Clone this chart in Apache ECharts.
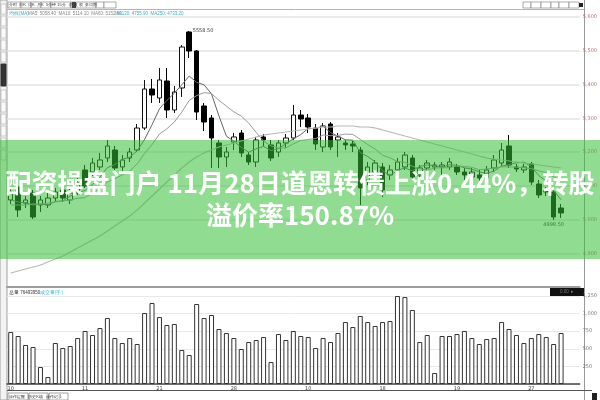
<!DOCTYPE html>
<html><head><meta charset="utf-8">
<script src="https://cdn.jsdelivr.net/npm/echarts@6/dist/echarts.min.js"></script>
<style>html,body{margin:0;padding:0;background:#fff}#c{width:600px;height:400px}</style>
</head><body><div id="c"></div>
<script>
// ---- data (open, close, low, high) ----
const candles = [
[5057.8,5081.5,5045.9,5093.4],[5096.3,5028.2,5007.4,5108.2],[5048.9,5057.8,5034.1,5069.6],[5078.5,5007.4,5001.5,5087.4],
[5043.0,5057.8,5022.2,5069.6],[5043.0,5063.7,5034.1,5078.5],[5063.7,5081.5,5054.8,5093.4],[5087.4,5063.7,5051.9,5099.3],
[5057.8,5078.5,5045.9,5090.4],[5081.5,5108.2,5072.6,5123.0],[5146.7,5099.3,5093.4,5161.5],[5140.7,5167.4,5128.9,5182.2],
[5155.6,5176.3,5146.7,5197.0],[5182.2,5217.8,5170.4,5235.6],[5205.9,5152.6,5140.7,5217.8],[5155.6,5176.3,5143.7,5191.1],
[5182.2,5200.0,5170.4,5211.9],[5205.9,5271.1,5200.0,5283.0],[5271.1,5386.7,5265.2,5413.4],[5386.7,5368.9,5345.2,5416.3],
[5360.0,5413.4,5345.2,5448.9],[5410.4,5324.5,5300.8,5448.9],[5324.5,5377.8,5315.6,5395.6],[5389.7,5511.1,5363.0,5517.1],
[5555.6,5499.3,5478.5,5558.5],[5499.3,5318.5,5294.8,5502.2],[5336.3,5288.9,5262.2,5345.2],[5300.8,5241.5,5152.6,5309.6],
[5226.7,5185.2,5152.6,5235.6],[5185.2,5200.0,5155.6,5214.8],[5229.7,5244.5,5205.9,5256.3],[5256.3,5197.0,5185.2,5265.2],
[5191.1,5170.4,5161.5,5200.0],[5170.4,5235.6,5155.6,5244.5],[5244.5,5235.6,5217.8,5253.4],[5220.8,5182.2,5173.4,5235.6],
[5200.0,5226.7,5185.2,5235.6],[5226.7,5241.5,5211.9,5253.4],[5241.5,5309.6,5235.6,5339.3],[5309.6,5297.8,5274.1,5324.5],
[5300.8,5274.1,5256.3,5312.6],[5271.1,5223.7,5205.9,5283.0],[5214.8,5277.1,5200.0,5285.9],[5283.0,5214.8,5205.9,5288.9],
[5235.6,5244.5,5185.2,5256.3],[5226.7,5220.8,5205.9,5235.6],[5223.7,5217.8,5200.0,5232.6],[5205.9,5093.4,5043.0,5214.8],
[5117.1,5155.6,5102.3,5170.4],[5140.7,5167.4,5128.9,5176.3],[5155.6,5087.4,5066.7,5167.4],[5131.9,5146.7,5117.1,5161.5],
[5146.7,5170.4,5131.9,5182.2],[5155.6,5191.1,5146.7,5200.0],[5182.2,5125.9,5117.1,5191.1],[5131.9,5152.6,5117.1,5161.5],
[5152.6,5167.4,5140.7,5176.3],[5155.6,5161.5,5146.7,5170.4],[5155.6,5161.5,5131.9,5170.4],[5155.6,5170.4,5146.7,5182.2],
[5155.6,5140.7,5131.9,5164.5],[5140.7,5131.9,5117.1,5152.6],[5125.9,5140.7,5111.1,5152.6],[5131.9,5123.0,5105.2,5146.7],
[5123.0,5146.7,5111.1,5158.5],[5152.6,5176.3,5140.7,5191.1],[5167.4,5205.9,5158.5,5226.7],[5217.8,5161.5,5152.6,5250.4],
[5155.6,5149.6,5140.7,5164.5],[5146.7,5155.6,5137.8,5164.5],[5164.5,5111.1,5102.3,5170.4],[5105.2,5072.6,5063.7,5117.1],
[5087.4,5081.5,5069.6,5096.3],[5081.5,5007.4,4998.5,5093.4],[5034.1,5019.3,5004.5,5045.9]
];
const volumes = [738,682,554,525,241,99,582,511,540,653,753,696,795,937,653,582,653,568,1008,1150,
951,838,852,483,412,1136,937,980,781,724,653,497,596,625,667,312,710,625,753,682,
667,511,653,596,724,880,809,966,880,824,880,895,1250,1235,1051,596,696,156,682,682,
710,753,653,568,639,653,880,781,696,582,653,710,667,568,724];
const ma5 = [5057.8,5051.9,5048.9,5043.0,5046.5,5043.0,5053.6,5054.8,5069.0,5079.1,5086.2,5103.4,5125.9,5153.8,5162.7,
5178.1,5184.6,5203.6,5237.4,5280.6,5328.0,5352.9,5374.2,5399.1,5425.2,5406.2,5399.1,5371.9,5306.7,5246.8,
5232.0,5213.7,5199.4,5209.5,5216.6,5204.2,5210.1,5224.3,5239.1,5251.6,5269.9,5269.3,5276.5,5257.5,5246.8,
5236.2,5235.0,5198.2,5186.4,5171.0,5144.3,5130.1,5145.5,5152.6,5144.3,5157.4,5161.5,5159.7,5153.8,5162.7,
5160.3,5153.2,5149.0,5141.3,5136.6,5143.7,5158.5,5162.7,5168.0,5169.8,5156.8,5130.1,5114.1,5085.6,5058.4];
const ma10 = [5043.0,5043.0,5043.0,5045.9,5045.9,5048.9,5051.9,5054.8,5057.8,5062.8,5064.6,5078.5,5090.4,5111.4,5120.9,
5132.2,5144.0,5164.8,5195.6,5221.7,5253.1,5268.8,5288.9,5318.2,5352.9,5367.1,5376.0,5373.1,5352.9,5336.0,
5319.1,5306.4,5285.6,5258.1,5231.7,5218.1,5211.9,5211.9,5224.3,5234.1,5237.1,5239.7,5250.4,5248.3,5249.2,
5253.1,5252.2,5237.4,5222.0,5208.9,5190.2,5182.5,5171.9,5169.5,5157.7,5150.8,5145.8,5152.6,5153.2,5153.5,
5158.8,5157.4,5154.4,5147.6,5149.6,5152.0,5155.9,5155.9,5154.7,5153.2,5150.2,5144.3,5138.4,5126.8,5114.1];
const ma60 = [4841.5,4847.4,4853.3,4859.3,4865.2,4874.1,4883.0,4891.9,4903.7,4915.6,4927.4,4939.2,4951.1,4965.9,4980.8,
4995.6,5010.4,5028.2,5048.9,5069.6,5090.4,5111.1,5131.9,5152.6,5170.4,5185.2,5197.0,5205.9,5214.8,5220.8,
5226.7,5232.6,5238.5,5244.5,5250.4,5253.4,5256.3,5259.3,5262.2,5265.2,5268.2,5271.1,5274.1,5274.1,5277.1,
5277.1,5277.1,5274.1,5274.1,5271.1,5265.2,5259.3,5253.4,5247.4,5241.5,5235.6,5229.7,5223.7,5217.8,5211.9,
5205.9,5200.0,5194.1,5188.2,5182.2,5179.3,5176.3,5173.4,5170.4,5167.4,5164.5,5161.5,5158.5,5155.6,5152.6];
const tickLabels = ['10','11','21','28','10','18','19','27'];
const slotCount = 77;
const titleLines = ['配资操盘门户 11月28日道恩转债上涨0.44%，转股', '溢价率150.87%'];

const cats = [];
for (let i = 0; i < slotCount; i++) cats.push('d' + i);

const chart = echarts.init(document.getElementById('c'), null, {renderer: 'canvas'});
const tiny = {fontSize: 5, fontFamily: 'DejaVu Sans'};
const last = a => a[a.length - 1].toFixed(2);

const chrome = [
  // left tool strip
  {type:'rect', shape:{x:0,y:0,width:7,height:400}, style:{fill:'#f3f3f3', stroke:'#a0a0a0', lineWidth:1}},
  ...[4,16,28,40,52,90,102,114,126,138,150].map(y => ({type:'rect', shape:{x:1,y:y,width:5,height:10}, style:{fill:'#fafafa', stroke:'#b0b0b0', lineWidth:0.6}})),
  {type:'rect', shape:{x:1,y:64,width:5,height:22}, style:{fill:'#333', stroke:'#333'}},
  // top toolbar
  {type:'line', shape:{x1:7,y1:9.5,x2:584,y2:9.5}, style:{stroke:'#b5b5b5', lineWidth:1}},
  ...[[8,13],[21,10],[31,10],[41,10],[51,20],[71,4],[75,21],[96,8],[104,12]].map(b => ({type:'rect', shape:{x:b[0],y:2,width:b[1],height:6}, style:{fill:'#fff', stroke:'#777', lineWidth:0.6}})),
  {type:'rect', shape:{x:72,y:2,width:4,height:6}, style:{fill:'#444'}},
  {type:'text', x:9, y:3, style:{text:'分时  日K  周K  月K  5分钟 15分   前 复 权  多周期', fill:'#333', fontSize:4}},
  ...[[523,8],[531,10],[541,10],[551,8],[559,10],[569,10]].map(b => ({type:'rect', shape:{x:b[0],y:2,width:b[1],height:6}, style:{fill:'#fff', stroke:'#777', lineWidth:0.6}})),
  {type:'rect', shape:{x:579,y:3,width:4,height:4}, style:{fill:'#222'}},
  // info line
  {type:'text', x:9, y:11, style:{text:'均线(MA)', fill:'#33aacc', fontSize:4.5}},
  {type:'text', x:28, y:11, style:{text:'MA5: ' + last(ma5) + '  MA10: ' + last(ma10) + '  MA60: ' + last(ma60), fill:'#888', fontSize:4.5}},
  {type:'text', x:115, y:11, style:{text:'MA120: 4755.90  MA250: 4733.20', fill:'#44b0c8', fontSize:4.5}},
  // right axis full-height line
  {type:'line', shape:{x1:584.5,y1:0,x2:584.5,y2:400}, style:{stroke:'#999', lineWidth:1}},
  // volume header
  {type:'text', x:9, y:290, style:{text:'总量 76493950', fill:'#333', fontSize:4.5}},
  {type:'text', x:40, y:290, style:{text:'成交量(手)', fill:'#33bbcc', fontSize:4.5}},
  {type:'rect', shape:{x:550,y:288,width:34,height:8}, style:{fill:'#111'}},
  {type:'text', x:560, y:289.5, style:{text:'0.00  ▸', fill:'#777', fontSize:4.5}},
  // bottom bar
  {type:'line', shape:{x1:7,y1:390.5,x2:592,y2:390.5}, style:{stroke:'#555', lineWidth:1}},
  ...[[8,20],[29,19],[49,19]].map(b => ({type:'rect', shape:{x:b[0],y:393,width:b[1],height:7}, style:{fill:'#fff', stroke:'#666', lineWidth:0.6}})),
  {type:'text', x:9, y:394.5, style:{text:'操作提醒   历史K线   操作记录', fill:'#333', fontSize:4}},
  {type:'rect', shape:{x:592,y:393,width:5,height:7}, style:{fill:'#222'}},
  // banner
  {type:'rect', z:100, shape:{x:0,y:140,width:600,height:119}, style:{fill:'rgba(53,191,53,0.55)'}},
  {type:'text', z:101, x:300, y:167, style:{text: titleLines.join('\n'), fill:'#fff', fontSize:26, fontWeight:'bold', lineHeight:32, align:'center', verticalAlign:'top', fontFamily:'"Noto Sans CJK SC", sans-serif'}}
];

chart.setOption({
  animation: false,
  backgroundColor: '#fff',
  grid: [
    {left: 7, width: 577.5, top: 17, height: 270},
    {left: 7, width: 577.5, top: 296, height: 88}
  ],
  xAxis: [
    {type:'category', gridIndex:0, data:cats, boundaryGap:true,
     axisLine:{show:true, lineStyle:{color:'#9d9d9d', width:2}}, axisTick:{show:false}, axisLabel:{show:false}, splitLine:{show:false}},
    {type:'category', gridIndex:1, data:cats, boundaryGap:true,
     axisLine:{show:true, lineStyle:{color:'#444', width:1.5}}, axisTick:{show:false},
     axisLabel:{show:true, ...tiny, color:'#444', margin:2, interval:(idx)=> idx % 10 === 0 && idx < candles.length,
       formatter:(v, idx)=> tickLabels[Math.round(idx/10)] || ''}, splitLine:{show:false}}
  ],
  yAxis: [
    {type:'value', gridIndex:0, position:'right', min:4800, max:5600, interval:100, scale:true,
     axisLine:{show:false}, axisTick:{show:false},
     axisLabel:{show:true, ...tiny, color:'#c07070', margin:3, showMinLabel:false},
     splitLine:{show:true, lineStyle:{color:'#e3e3e3', width:1.5}}},
    {type:'value', gridIndex:1, position:'right', min:0, max:1250, interval:250,
     axisLine:{show:false}, axisTick:{show:false},
     axisLabel:{show:true, ...tiny, color:'#777', margin:3, showMinLabel:false},
     splitLine:{show:true, lineStyle:{color:'#e8e8e8', width:1}}}
  ],
  series: [
    {type:'candlestick', xAxisIndex:0, yAxisIndex:0, data:candles, barWidth:5,
     itemStyle:{color:'#ffffff', color0:'#000000', borderColor:'#111111', borderColor0:'#000000', borderWidth:1},
     markPoint:{symbol:'circle', symbolSize:1, itemStyle:{color:'rgba(0,0,0,0)'},
       data:[
         {type:'max', valueDim:'highest', label:{position:'right', distance:3}},
         {type:'min', valueDim:'lowest', label:{position:'bottom', distance:2}}
       ],
       label:{show:true, ...tiny, color:'#333', formatter:p=>p.value.toFixed(2)}}},
    {type:'line', xAxisIndex:0, yAxisIndex:0, data:ma5, symbol:'none', smooth:false, lineStyle:{color:'#666', width:1}, z:3},
    {type:'line', xAxisIndex:0, yAxisIndex:0, data:ma10, symbol:'none', smooth:false, lineStyle:{color:'#9a9a9a', width:1}, z:3},
    {type:'line', xAxisIndex:0, yAxisIndex:0, data:ma60, symbol:'none', smooth:true, lineStyle:{color:'#b8b8b8', width:1.2}, z:3},
    {type:'bar', xAxisIndex:1, yAxisIndex:1, data:volumes, barWidth:5,
     itemStyle:{color:'#ffffff', borderColor:'#333', borderWidth:1}}
  ],
  graphic: chrome
});
</script>
</body></html>
